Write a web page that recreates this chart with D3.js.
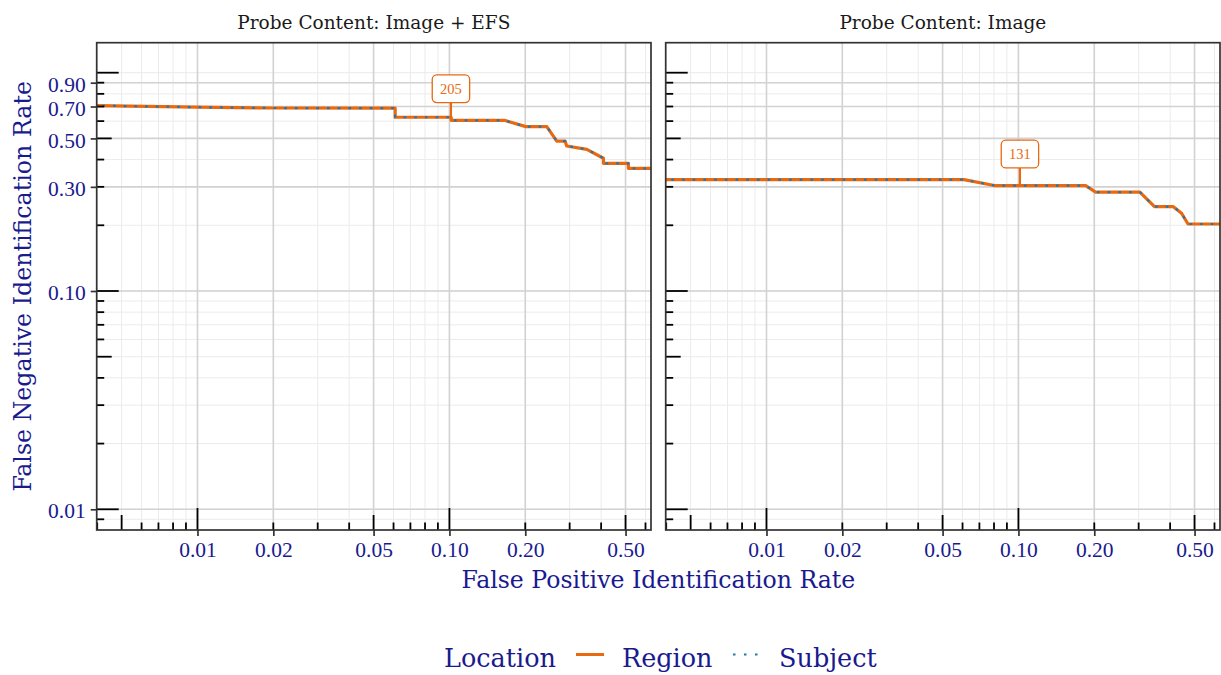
<!DOCTYPE html>
<html><head><meta charset="utf-8">
<script src="https://cdn.jsdelivr.net/npm/d3@7"></script>
<style>body{margin:0;background:#fff}svg{display:block}</style>
</head><body><svg id="c" width="1221" height="675"></svg>
<script>
// ---------------- data ----------------
const panels = ["Probe Content: Image + EFS", "Probe Content: Image"];
const seriesNames = ["Region", "Subject"];

const efsRegionFpir = [0.0038, 0.01, 0.02, 0.0609, 0.0609, 0.1016, 0.1016, 0.165, 0.201, 0.2434, 0.2667, 0.2877, 0.292, 0.3509, 0.4085, 0.4085, 0.513, 0.513, 0.66];
const efsRegionFnir = [0.707, 0.695, 0.689, 0.688, 0.625, 0.625, 0.605, 0.605, 0.566, 0.566, 0.486, 0.486, 0.4616, 0.4457, 0.4055, 0.3846, 0.3846, 0.3648, 0.3648];
const efsSubjectFpir = [0.0038, 0.01, 0.02, 0.0609, 0.0609, 0.1016, 0.1016, 0.165, 0.201, 0.2434, 0.2667, 0.2877, 0.292, 0.3509, 0.4085, 0.4085, 0.513, 0.513, 0.66];
const efsSubjectFnir = [0.707, 0.695, 0.689, 0.688, 0.625, 0.625, 0.605, 0.605, 0.566, 0.566, 0.486, 0.486, 0.4616, 0.4457, 0.4055, 0.3846, 0.3846, 0.3648, 0.3648];

const imgRegionFpir = [0.0038, 0.0608, 0.0812, 0.1849, 0.2024, 0.3033, 0.3467, 0.412, 0.444, 0.471, 0.66];
const imgRegionFnir = [0.3235, 0.3235, 0.3036, 0.3036, 0.284, 0.284, 0.2433, 0.2433, 0.227, 0.2027, 0.2027];
const imgSubjectFpir = [0.0038, 0.0608, 0.0812, 0.1849, 0.2024, 0.3033, 0.3467, 0.412, 0.444, 0.471, 0.66];
const imgSubjectFnir = [0.3235, 0.3235, 0.3036, 0.3036, 0.284, 0.284, 0.2433, 0.2433, 0.227, 0.2027, 0.2027];

const xBreaks = [0.01, 0.02, 0.05, 0.10, 0.20, 0.50];
const xLabels = ["0.01", "0.02", "0.05", "0.10", "0.20", "0.50"];
const yBreaks = [0.01, 0.10, 0.30, 0.50, 0.70, 0.90];
const yLabels = ["0.01", "0.10", "0.30", "0.50", "0.70", "0.90"];

const annotX = [0.1, 0.1];
const annotY = [0.605, 0.3036];
const annotLabels = ["205", "131"];

// ---------------- layout / style ----------------
const ORANGE = "#e8690f", BLUE = "#1f78b4", NAVY = "#1a1a8f";
const svg = d3.select("#c");
const panelX = [[96.7, 651], [665.7, 1220]];
const yTop = 42.7, yBottom = 530;
const y = d3.scaleLog().domain([Math.pow(10, -2.0948), Math.pow(10, 0.1374)]).range([yBottom, yTop]);

const panelData = [
  [{fp: efsRegionFpir, fn: efsRegionFnir}, {fp: efsSubjectFpir, fn: efsSubjectFnir}],
  [{fp: imgRegionFpir, fn: imgRegionFnir}, {fp: imgSubjectFpir, fn: imgSubjectFnir}]
];

function logSteps(lo, hi) {
  const out = [];
  for (let e = -4; e <= 1; e++) for (let m = 1; m <= 9; m++) {
    const v = m * Math.pow(10, e);
    if (v >= lo * 0.9999 && v <= hi * 1.0001) out.push(v);
  }
  return out;
}

const defs = svg.append("defs");

panels.forEach((title, pi) => {
  const [x0, x1] = panelX[pi];
  const x = d3.scaleLog().domain([Math.pow(10, -2.4), Math.pow(10, -0.2)]).range([x0, x1]);
  const g = svg.append("g");
  const xMinor = logSteps(x.domain()[0], x.domain()[1]);
  const yMinor = logSteps(y.domain()[0], y.domain()[1]);

  // minor grid
  g.append("g").selectAll("line").data(xMinor).join("line")
    .attr("x1", d => x(d)).attr("x2", d => x(d)).attr("y1", yTop).attr("y2", yBottom)
    .attr("stroke", "#ebebeb").attr("stroke-width", 1);
  g.append("g").selectAll("line").data(yMinor).join("line")
    .attr("y1", d => y(d)).attr("y2", d => y(d)).attr("x1", x0).attr("x2", x1)
    .attr("stroke", "#ebebeb").attr("stroke-width", 1);
  // major grid
  g.append("g").selectAll("line").data(xBreaks).join("line")
    .attr("x1", d => x(d)).attr("x2", d => x(d)).attr("y1", yTop).attr("y2", yBottom)
    .attr("stroke", "#d2d2d2").attr("stroke-width", 1.6);
  g.append("g").selectAll("line").data(yBreaks).join("line")
    .attr("y1", d => y(d)).attr("y2", d => y(d)).attr("x1", x0).attr("x2", x1)
    .attr("stroke", "#d2d2d2").attr("stroke-width", 1.6);

  // clip
  defs.append("clipPath").attr("id", "clip" + pi).append("rect")
    .attr("x", x0).attr("y", yTop).attr("width", x1 - x0).attr("height", yBottom - yTop);
  const plot = g.append("g").attr("clip-path", `url(#clip${pi})`);

  const line = d3.line().x(d => x(d[0])).y(d => y(d[1]));
  const [reg, sub] = panelData[pi];
  plot.append("path").datum(reg.fp.map((v, i) => [v, reg.fn[i]]))
    .attr("d", line).attr("fill", "none").attr("stroke", ORANGE).attr("stroke-width", 3.2)
    .attr("stroke-linejoin", "round");
  plot.append("path").datum(sub.fp.map((v, i) => [v, sub.fn[i]]))
    .attr("d", line).attr("fill", "none").attr("stroke", BLUE).attr("stroke-width", 2.2)
    .attr("stroke-dasharray", "2.7,8");

  // annotation
  const ax = x(annotX[pi]) + 1.5, ay = y(annotY[pi]);
  const bw = 37.4, bh = 27.7, gapB = 17.8;
  g.append("line").attr("x1", ax).attr("x2", ax).attr("y1", ay).attr("y2", ay - gapB)
    .attr("stroke", ORANGE).attr("stroke-width", 2.2);
  g.append("rect").attr("x", ax - bw / 2).attr("y", ay - gapB - bh).attr("width", bw).attr("height", bh)
    .attr("rx", 4.5).attr("fill", "#fff").attr("stroke", ORANGE).attr("stroke-width", 1.3);
  g.append("text").attr("x", ax).attr("y", ay - gapB - bh / 2 + 5).attr("text-anchor", "middle")
    .attr("font-family", "Liberation Serif").attr("font-size", 14.5).attr("fill", ORANGE).text(annotLabels[pi]);

  // log ticks
  const tickLen = v => {
    const m = Math.round(v / Math.pow(10, Math.floor(Math.log10(v) + 1e-9)));
    return m === 1 ? 22 : (m === 5 ? 15 : 7.5);
  };
  g.append("g").selectAll("line").data(xMinor).join("line")
    .attr("x1", d => x(d)).attr("x2", d => x(d)).attr("y1", yBottom).attr("y2", d => yBottom - tickLen(d))
    .attr("stroke", "#000").attr("stroke-width", 1.8);
  g.append("g").selectAll("line").data(yMinor).join("line")
    .attr("y1", d => y(d)).attr("y2", d => y(d)).attr("x1", x0).attr("x2", d => x0 + tickLen(d))
    .attr("stroke", "#000").attr("stroke-width", 1.8);

  // border
  g.append("rect").attr("x", x0).attr("y", yTop).attr("width", x1 - x0).attr("height", yBottom - yTop)
    .attr("fill", "none").attr("stroke", "#333").attr("stroke-width", 1.7);

  // x axis
  const xa = g.append("g").attr("transform", `translate(0,${yBottom})`)
    .call(d3.axisBottom(x).tickValues(xBreaks).tickFormat((d, i) => xLabels[i]).tickSize(6).tickPadding(6));
  xa.select(".domain").remove();
  xa.selectAll("line").attr("stroke", "#333").attr("stroke-width", 1.7);
  xa.selectAll("text").attr("font-family", "Liberation Serif").attr("font-size", 21.5).attr("fill", NAVY);

  if (pi === 0) {
    const ya = g.append("g").attr("transform", `translate(${x0},0)`)
      .call(d3.axisLeft(y).tickValues(yBreaks).tickFormat((d, i) => yLabels[i]).tickSize(6).tickPadding(5));
    ya.select(".domain").remove();
    ya.selectAll("line").attr("stroke", "#333").attr("stroke-width", 1.7);
    ya.selectAll("text").attr("font-family", "Liberation Serif").attr("font-size", 21.5).attr("fill", NAVY)
      .attr("dy", "0.4em");
  }

  // strip title
  svg.append("text").attr("x", (x0 + x1) / 2).attr("y", 29).attr("text-anchor", "middle")
    .attr("font-family", "DejaVu Serif").attr("font-size", 18.5).attr("fill", "#1a1a1a").text(title);
});

// axis titles
svg.append("text").attr("x", (panelX[0][0] + panelX[1][1]) / 2).attr("y", 588).attr("text-anchor", "middle")
  .attr("font-family", "DejaVu Serif").attr("font-size", 23.6).attr("fill", NAVY)
  .text("False Positive Identification Rate");
svg.append("text").attr("transform", `translate(31,${(yTop + yBottom) / 2}) rotate(-90)`).attr("text-anchor", "middle")
  .attr("font-family", "DejaVu Serif").attr("font-size", 23.7).attr("fill", NAVY)
  .text("False Negative Identification Rate");

// legend
const lg = svg.append("g").attr("font-family", "DejaVu Serif").attr("font-size", 25.5).attr("fill", NAVY);
lg.append("text").attr("x", 444).attr("y", 667).text("Location");
lg.append("line").attr("x1", 576).attr("x2", 604).attr("y1", 654.5).attr("y2", 654.5)
  .attr("stroke", ORANGE).attr("stroke-width", 3);
lg.append("text").attr("x", 622).attr("y", 667).text(seriesNames[0]);
lg.append("line").attr("x1", 733).attr("x2", 758).attr("y1", 654.5).attr("y2", 654.5)
  .attr("stroke", BLUE).attr("stroke-width", 2.2).attr("stroke-dasharray", "2.5,8.5");
lg.append("text").attr("x", 779).attr("y", 667).text(seriesNames[1]);
</script></body></html>
